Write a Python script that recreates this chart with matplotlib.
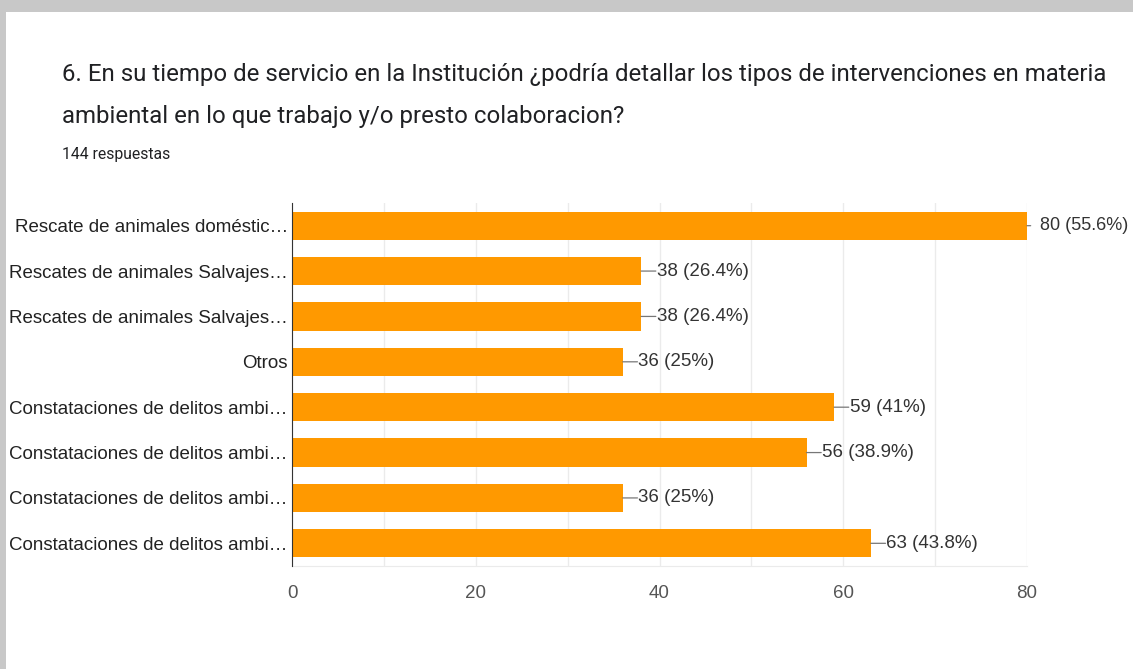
import matplotlib
matplotlib.use("Agg")
import matplotlib.pyplot as plt
from matplotlib.patches import Rectangle

categories = [
    "Rescate de animales doméstic…",
    "Rescates de animales Salvajes…",
    "Rescates de animales Salvajes…",
    "Otros",
    "Constataciones de delitos ambi…",
    "Constataciones de delitos ambi…",
    "Constataciones de delitos ambi…",
    "Constataciones de delitos ambi…",
]
values = [80, 38, 38, 36, 59, 56, 36, 63]
pct_labels = ["55.6%", "26.4%", "26.4%", "25%", "41%", "38.9%", "25%", "43.8%"]
xticks = [0, 20, 40, 60, 80]

W, H = 1133, 669
fig = plt.figure(figsize=(W / 100, H / 100), dpi=100)
fig.patch.set_facecolor("white")

# card shadow frame
fig.patches.append(Rectangle((0, 1 - 12 / H), 1, 12 / H, transform=fig.transFigure,
                             facecolor="#c8c8c8", edgecolor="none", zorder=0))
fig.patches.append(Rectangle((0, 0), 6 / W, 1, transform=fig.transFigure,
                             facecolor="#c8c8c8", edgecolor="none", zorder=0))

ax = fig.add_axes([292 / W, 1 - 566 / H, (1027 - 292) / W, (566 - 203) / H])
y = list(range(len(categories)))
ax.barh(y, values, height=0.62, color="#ff9900", zorder=3)
ax.set_ylim(len(categories) - 0.5, -0.5)
ax.set_xlim(0, 80)
ax.set_xticks(xticks)
ax.set_xticks(range(0, 81, 10), minor=True)
ax.set_xticklabels([str(t) for t in xticks], fontsize=13.5, color="#555555",
                   family="Liberation Sans")
ax.tick_params(axis="x", which="both", length=0, pad=14)
ax.set_yticks(y)
ax.set_yticklabels(categories, fontsize=13.5, color="#222222", family="Liberation Sans")
ax.tick_params(axis="y", length=0, pad=3)
ax.grid(axis="x", which="both", color="#ebebeb", linewidth=1, zorder=0)
for s in ["top", "right"]:
    ax.spines[s].set_visible(False)
ax.spines["bottom"].set_color("#ebebeb")
ax.spines["left"].set_color("#333333")
ax.spines["left"].set_zorder(4)

xmax = ax.get_xlim()[1]
for i, (v, p) in enumerate(zip(values, pct_labels)):
    at_edge = v >= xmax
    line_len = 0.4 if at_edge else 1.6
    text_off = 1.45 if at_edge else 1.7
    fs = 13.0 if at_edge else 13.5
    ax.annotate("", xy=(v, i), xytext=(v + line_len, i),
                arrowprops=dict(arrowstyle="-", color="#777777", lw=0.9,
                                shrinkA=0, shrinkB=0),
                annotation_clip=False, zorder=4)
    ax.text(v + text_off, i, f"{v} ({p})", va="center", ha="left",
            fontsize=fs, color="#333333", family="Liberation Sans", clip_on=False)

fig.text(62 / W, 1 - 75 / H, "6. En su tiempo de servicio en la Institución ¿podría detallar los tipos de intervenciones en materia",
         fontsize=17.3, color="#202124", family="Roboto", va="center", ha="left")
fig.text(62 / W, 1 - 117 / H, "ambiental en lo que trabajo y/o presto colaboracion?",
         fontsize=17.3, color="#202124", family="Roboto", va="center", ha="left")
fig.text(62 / W, 1 - 155 / H, "144 respuestas", fontsize=11.3, color="#202124",
         family="Roboto", va="center", ha="left")

fig.savefig("out.png", dpi=100)
